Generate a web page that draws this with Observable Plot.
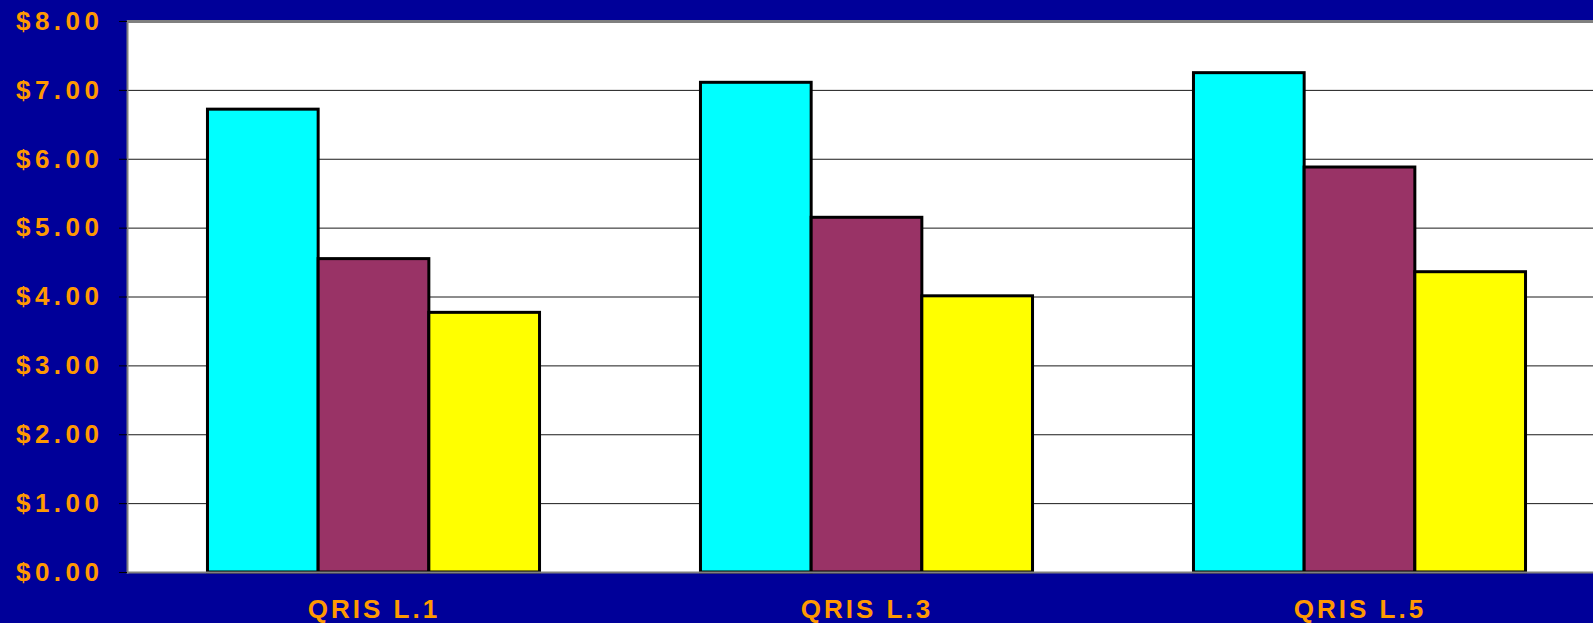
<!DOCTYPE html>
<html>
<head>
<meta charset="utf-8">
<script src="https://cdn.jsdelivr.net/npm/d3@7"></script>
<script src="https://cdn.jsdelivr.net/npm/@observablehq/plot@0.6"></script>
<style>
  html, body { margin: 0; padding: 0; background: #000099; overflow: hidden; width: 1593px; height: 623px; }
  #chart { width: 1593px; height: 623px; overflow: hidden; }
  #chart svg { display: block; max-width: none !important; width: 1606px !important; height: 623px !important; }
  g[aria-label="y-axis tick label"] text { letter-spacing: 4.5px; }
  g[aria-label="fx-axis tick label"] text { letter-spacing: 3px; }
</style>
</head>
<body>
<div id="chart"></div>
<script>
const categories = ["QRIS L.1", "QRIS L.3", "QRIS L.5"];
const seriesNames = ["Series 1", "Series 2", "Series 3"];
const series1 = [6.72, 7.11, 7.25];
const series2 = [4.55, 5.15, 5.88];
const series3 = [3.77, 4.01, 4.36];
const seriesColors = ["#00ffff", "#993366", "#ffff00"];
const yTicks = [0, 1, 2, 3, 4, 5, 6, 7, 8];

const seriesValues = [series1, series2, series3];
const rows = [];
categories.forEach((c, i) => {
  seriesNames.forEach((s, j) => {
    rows.push({category: c, series: s, value: seriesValues[j][i]});
  });
});

const orange = "#ff9900";

const chart = Plot.plot({
  width: 1606,
  height: 623,
  marginLeft: 127,
  marginRight: 0,
  marginTop: 21,
  marginBottom: 51,
  style: {background: "#000099", fontFamily: "Arial, 'Liberation Sans', sans-serif", overflow: "visible", maxWidth: "none"},
  fx: {domain: categories, padding: 0, round: false, label: null},
  x: {domain: seriesNames, paddingInner: 0, paddingOuter: 0.727, round: false, axis: null},
  y: {domain: [0, 8], label: null, axis: null},
  color: {domain: seriesNames, range: seriesColors},
  marks: [
    Plot.frame({fill: "white", stroke: "none", facet: "super"}),
    Plot.gridY(yTicks, {stroke: "#1a1a1a", strokeOpacity: 1, strokeWidth: 1}),
    Plot.barY(rows, {fx: "category", x: "series", y: "value", fill: "series", stroke: "black", strokeWidth: 3, inset: 0}),
    Plot.ruleY([8], {stroke: "#808080", strokeWidth: 3}),
    Plot.ruleY([0], {stroke: "#808080", strokeWidth: 2}),
    Plot.frame({anchor: "left", stroke: "#808080", strokeWidth: 2, facet: "super"}),
    Plot.axisY({ticks: yTicks, tickFormat: d3.format("$.2f"), tickSize: 8, tickPadding: 16,
      fontSize: 26, fontWeight: "bold", fill: orange, stroke: "black", label: null}),
    Plot.axisFx({anchor: "bottom", tickSize: 0, tickPadding: 27, fontSize: 26, fontWeight: "bold", fill: orange, label: null})
  ]
});
document.getElementById("chart").appendChild(chart);
</script>
</body>
</html>
